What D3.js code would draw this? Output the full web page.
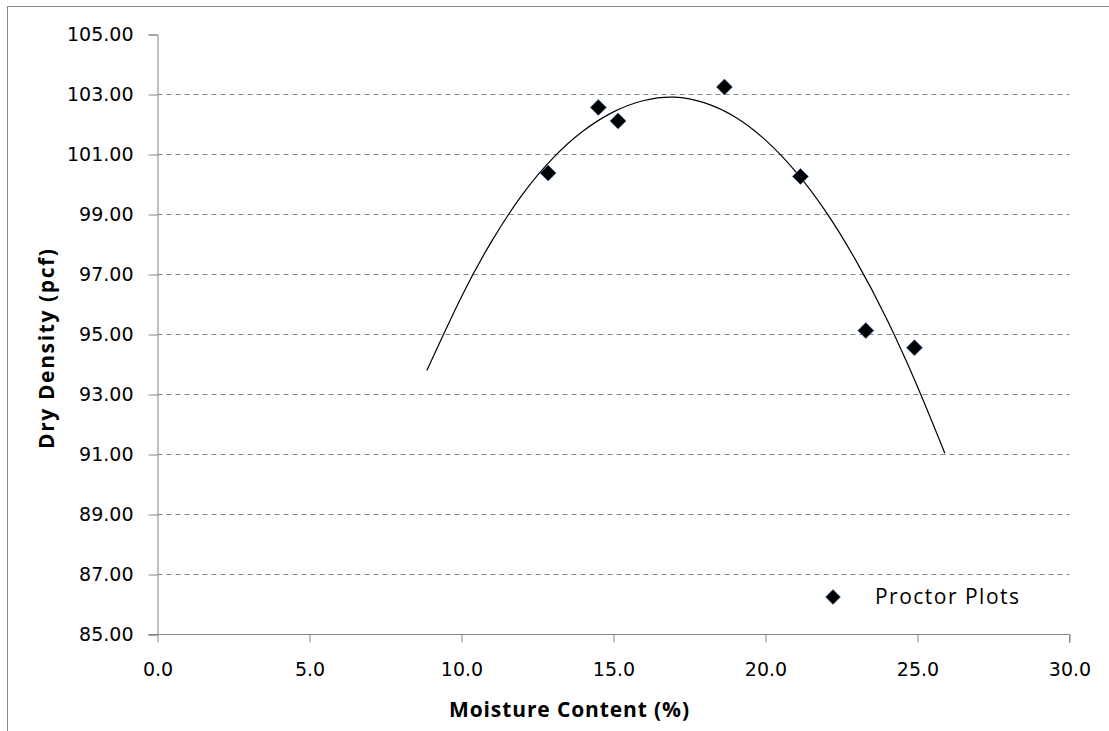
<!DOCTYPE html>
<html>
<head>
<meta charset="utf-8">
<script src="https://cdn.jsdelivr.net/npm/d3@7"></script>
<style>
  body { margin: 0; background: #fff; }
</style>
</head>
<body>
<div id="chart"></div>
<script>
// Proctor test points
const moisture = [12.85, 14.5, 15.15, 18.65, 21.15, 23.3, 24.9];
const dryDensity = [100.38, 102.57, 102.12, 103.25, 100.27, 95.13, 94.56];

// trendline as drawn in the picture
const trendMoisture = [8.86, 10, 11, 12, 13, 14, 15, 16, 17, 18, 19, 20, 21, 22, 23, 24, 25, 25.9];
const trendDensity = [93.8, 96.26, 98.12, 99.66, 100.87, 101.78, 102.42, 102.8, 102.91, 102.72, 102.25, 101.48, 100.42, 99.07, 97.42, 95.49, 93.26, 91.04];

const xTicks = [0, 5, 10, 15, 20, 25, 30];
const yTicks = [85, 87, 89, 91, 93, 95, 97, 99, 101, 103, 105];
const legendLabel = "Proctor Plots";

const W = 1109, H = 731;
const margin = {top: 34, right: 40, bottom: 97, left: 157};
const width = W - margin.left - margin.right;
const height = H - margin.top - margin.bottom;

const axisColor = "#868686";
const tickFont = "'DejaVu Sans', sans-serif";
const titleFont = "'Open Sans', sans-serif";

const root = d3.select("#chart")
               .append("svg")
               .attr("width", W)
               .attr("height", H);

// chart border
root.append("rect")
    .attr("x", 7.5)
    .attr("y", 6.5)
    .attr("width", W + 10)
    .attr("height", H + 10)
    .attr("fill", "none")
    .attr("stroke", axisColor);

const svg = root.append("g")
                .attr("transform", `translate(${margin.left + 0.5}, ${margin.top + 0.5})`);

const xScale = d3.scaleLinear().domain([0, 30]).range([0, width]);
const yScale = d3.scaleLinear().domain([85, 105]).range([height, 0]);

// gridlines
svg.append("g")
   .selectAll("line")
   .data(yTicks.filter(d => d !== 85 && d !== 105))
   .join("line")
   .attr("x1", 0)
   .attr("x2", width)
   .attr("y1", d => Math.round(yScale(d)))
   .attr("y2", d => Math.round(yScale(d)))
   .attr("stroke", axisColor)
   .attr("stroke-dasharray", "5,4");

// Y axis
svg.append("g")
   .call(d3.axisLeft(yScale).tickValues(yTicks).tickSize(9).tickPadding(15).tickFormat(d3.format(".2f")))
   .call(g => {
        g.select(".domain").attr("stroke", axisColor);
        g.selectAll("line").attr("stroke", axisColor);
        g.selectAll("text").attr("fill", "#000");
   })
   .style("font-family", tickFont)
   .style("font-size", "19px");

// X axis
svg.append("g")
   .attr("transform", `translate(0, ${height})`)
   .call(d3.axisBottom(xScale).tickValues(xTicks).tickSize(8).tickPadding(20).tickFormat(d3.format(".1f")))
   .call(g => {
        g.select(".domain").attr("stroke", axisColor).attr("d", `M-9,0H${width}V8`);
        g.selectAll("line").attr("stroke", axisColor);
        g.selectAll("text").attr("fill", "#000");
   })
   .style("font-family", tickFont)
   .style("font-size", "19px");

// trendline
const line = d3.line()
               .x(d => xScale(d[0]))
               .y(d => yScale(d[1]))
               .curve(d3.curveNatural);

svg.append("path")
   .datum(trendMoisture.map((m, i) => [m, trendDensity[i]]))
   .attr("fill", "none")
   .attr("stroke", "#000")
   .attr("stroke-width", 1.2)
   .attr("d", line);

// points
const diamond = d3.symbol(d3.symbolSquare, 128);

svg.append("g")
   .selectAll("path")
   .data(moisture.map((m, i) => [m, dryDensity[i]]))
   .join("path")
   .attr("d", diamond)
   .attr("transform", d => `translate(${xScale(d[0])}, ${yScale(d[1])}) rotate(45)`)
   .attr("fill", "#000")
   .attr("stroke", "#3a6ea5")
   .attr("stroke-width", 0.6);

// legend
const legend = root.append("g")
                   .attr("transform", "translate(833, 597)");

legend.append("path")
      .attr("d", d3.symbol(d3.symbolSquare, 110))
      .attr("transform", "rotate(45)")
      .attr("fill", "#000")
      .attr("stroke", "#3a6ea5")
      .attr("stroke-width", 0.6);

legend.append("text")
      .attr("x", 42)
      .attr("y", 7)
      .attr("textLength", 144)
      .attr("lengthAdjust", "spacing")
      .style("font-family", titleFont)
      .style("font-size", "21px")
      .text(legendLabel);

// axis titles
root.append("text")
    .attr("x", 569)
    .attr("y", 717)
    .attr("text-anchor", "middle")
    .attr("textLength", 240)
    .attr("lengthAdjust", "spacing")
    .style("font-family", titleFont)
    .style("font-size", "21px")
    .style("font-weight", "bold")
    .text("Moisture Content (%)");

root.append("text")
    .attr("transform", "translate(54, 349) rotate(-90)")
    .attr("text-anchor", "middle")
    .attr("textLength", 200)
    .attr("lengthAdjust", "spacing")
    .style("font-family", titleFont)
    .style("font-size", "21px")
    .style("font-weight", "bold")
    .text("Dry Density (pcf)");
</script>
</body>
</html>
